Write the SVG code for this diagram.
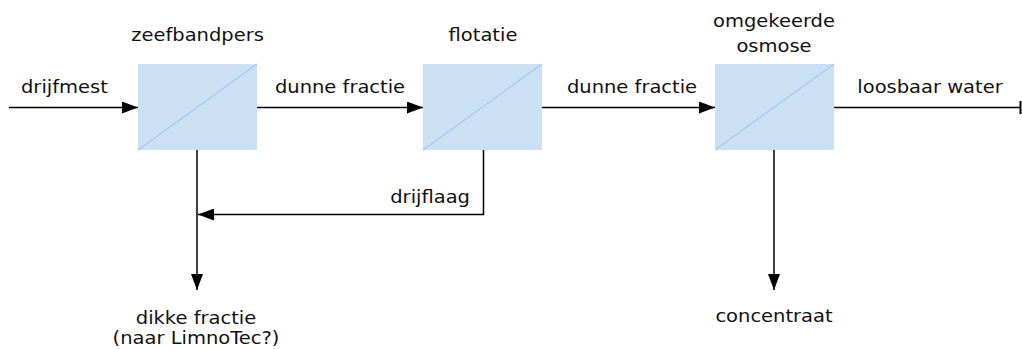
<svg xmlns="http://www.w3.org/2000/svg" width="1022" height="349" viewBox="0 0 1022 349">
  <style>
    .box { fill: #cce0f4; }
    .diag { stroke: #a3c9ec; stroke-width: 1.2; fill: none; }
    .flow { stroke: #000; stroke-width: 1.5; fill: none; }
    text { font-family: "DejaVu Sans", Verdana, sans-serif; font-size: 17px; fill: #111; }
    .c { text-anchor: middle; }
    .e { text-anchor: end; }
  </style>
  <defs>
    <marker id="arrow" markerUnits="userSpaceOnUse" markerWidth="16" markerHeight="12" refX="16" refY="6" orient="auto">
      <path d="M0,0 L16,6 L0,12 Z" fill="#000"/>
    </marker>
  </defs>

  <rect width="1022" height="349" fill="#fff"/>

  <!-- connectors -->
  <g id="connectors">
    <line class="flow" x1="9" y1="107.5" x2="138" y2="107.5" marker-end="url(#arrow)"/>
    <line class="flow" x1="257" y1="107.5" x2="423" y2="107.5" marker-end="url(#arrow)"/>
    <line class="flow" x1="542" y1="107.5" x2="715" y2="107.5" marker-end="url(#arrow)"/>
    <line class="flow" x1="834" y1="107.5" x2="1020" y2="107.5"/>
    <line x1="1020.5" y1="101" x2="1020.5" y2="114" stroke="#000" stroke-width="2"/>
    <line class="flow" x1="197" y1="150" x2="197" y2="290" marker-end="url(#arrow)"/>
    <polyline class="flow" points="483.5,150 483.5,214.5 198,214.5" marker-end="url(#arrow)"/>
    <line class="flow" x1="774" y1="150" x2="774" y2="290" marker-end="url(#arrow)"/>
  </g>

  <!-- process units (labels use a horizontally widened face) -->
  <g id="zeefbandpers">
    <rect class="box" x="138" y="64" width="119" height="86"/>
    <line class="diag" x1="138" y1="150" x2="257" y2="64"/>
    <text class="c" transform="translate(197.5 41) scale(1.147 1)">zeefbandpers</text>
  </g>
  <g id="flotatie">
    <rect class="box" x="423" y="64" width="119" height="86"/>
    <line class="diag" x1="423" y1="150" x2="542" y2="64"/>
    <text class="c" transform="translate(483 41) scale(1.147 1)">flotatie</text>
  </g>
  <g id="omgekeerde-osmose">
    <rect class="box" x="715" y="64" width="119" height="86"/>
    <line class="diag" x1="715" y1="150" x2="834" y2="64"/>
    <text class="c" transform="translate(774 27) scale(1.147 1)">omgekeerde</text>
    <text class="c" transform="translate(774 51.5) scale(1.147 1)">osmose</text>
  </g>

  <!-- stream labels -->
  <g id="labels">
    <text transform="translate(21 93) scale(1.147 1)">drijfmest</text>
    <text class="c" transform="translate(340 93) scale(1.147 1)">dunne fractie</text>
    <text class="c" transform="translate(632 93) scale(1.147 1)">dunne fractie</text>
    <text class="c" transform="translate(930 93) scale(1.147 1)">loosbaar water</text>
    <text class="e" transform="translate(470 203) scale(1.147 1)">drijflaag</text>
    <text class="c" transform="translate(196 323.5) scale(1.147 1)">dikke fractie</text>
    <text class="c" transform="translate(196 344) scale(1.147 1)">(naar LimnoTec?)</text>
    <text class="c" transform="translate(774 322) scale(1.147 1)">concentraat</text>
  </g>
</svg>
